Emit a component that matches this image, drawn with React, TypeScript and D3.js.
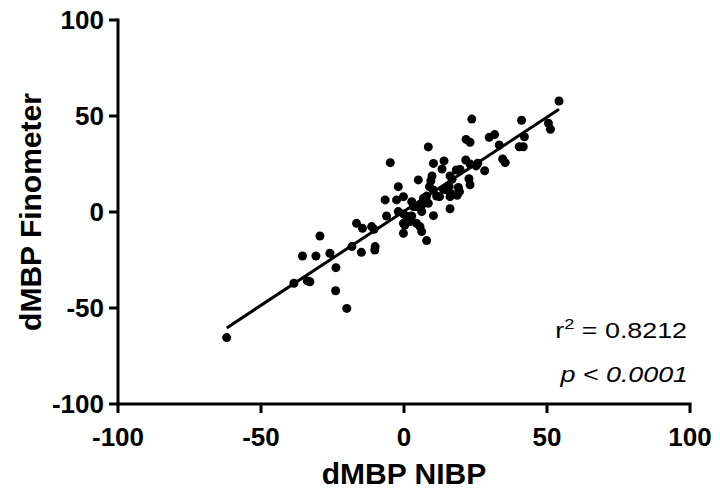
import React from "react";
import * as d3 from "d3";

const nibp: number[] = [
  54.2, 23.7, 41.1, 50.5, 51.2, 8.5, 21.7, 23.1, 29.8, 31.7, 42.1, 40.3, 41.7, 33.3, 34.5, 35.4,
  -4.8, 10.3, 14.0, 13.3, 21.6, 23.1, 25.2, 25.8, 28.2, 18.3, 19.6, 16.1, 16.8, 22.7, 23.1,
  9.8, 9.4, 5.0, -2.0, 19.0, 19.4, 8.9, 10.2, 13.8, 14.9, 15.8, 12.4, 11.4, 16.1, 16.7, 18.6,
  -0.2, -2.6, -6.6, 2.7, 6.8, 7.9, 6.2, 3.3, 4.4, 8.5, 16.1, -6.1, -2.0, -0.2, 1.5, 2.7, 6.2,
  10.3, 0.9, 2.1, -0.2, 0.3, 4.4, 5.6, 6.2, -0.2, 7.9, -10.1, -11.3,
  -16.6, -14.5, -10.5, -29.4, -35.5, -30.8, -25.9, -18.2, -14.9, -10.2, -23.8, -38.5, -33.8,
  -32.9, -23.9, -20.0, -62.0,
];
const finometer: number[] = [
  57.8, 48.4, 47.8, 46.2, 43.1, 33.9, 37.8, 36.3, 38.9, 40.3, 39.2, 34.0, 34.0, 34.9, 27.6, 25.7,
  25.7, 25.3, 26.6, 22.4, 27.1, 25.0, 24.0, 25.4, 21.5, 21.9, 22.2, 18.8, 17.0, 17.3, 14.2,
  18.8, 16.3, 16.7, 13.2, 12.8, 10.6, 13.2, 11.5, 11.8, 11.5, 13.2, 8.0, 8.3, 8.0, 9.4, 8.7,
  8.0, 6.3, 6.3, 5.4, 7.1, 8.3, 3.6, 2.8, 2.8, 4.5, 1.7, -2.1, 0.2, -1.0, -2.4, -2.1, 0.2,
  -1.9, -4.2, -5.0, -5.9, -6.8, -5.9, -7.6, -10.2, -11.1, -14.9, -18.0, -7.6,
  -5.9, -8.5, -9.0, -12.5, -22.9, -22.9, -21.5, -18.0, -21.0, -19.8, -29.0, -37.1, -35.9,
  -36.3, -41.0, -50.2, -65.4,
];
const xTicks: number[] = [-100, -50, 0, 50, 100];
const yTicks: number[] = [-100, -50, 0, 50, 100];
const fitX: number[] = [-62.0, 54.2];
const slope = 0.98;
const intercept = 0.4;
const r2Label = "0.8212";
const pLabel = "0.0001";

export default function App() {
  const x = d3.scaleLinear().domain([-100, 100]).range([118, 690]);
  const y = d3.scaleLinear().domain([-100, 100]).range([404, 20]);
  const pts = nibp.map((v, i) => [v, finometer[i]] as [number, number]);
  const line = d3
    .line<number>()
    .x((d) => x(d))
    .y((d) => y(slope * d + intercept));
  const font = "'Liberation Sans', Arial, sans-serif";
  return (
    <svg
      width={720}
      height={496}
      style={{ position: "absolute", left: 0, top: 0, background: "#fff" }}
      fontFamily={font}
    >
      <rect width={720} height={496} fill="#fff" />
      {/* axes */}
      <line x1={x(-100)} x2={x(-100)} y1={y(100) - 1.5} y2={y(-100) + 1.5} stroke="#000" strokeWidth={3} />
      <line x1={x(-100) - 1.5} x2={x(100) + 1.5} y1={y(-100)} y2={y(-100)} stroke="#000" strokeWidth={3} />
      {yTicks.map((t) => (
        <g key={"y" + t}>
          <line x1={x(-100) - 9} x2={x(-100)} y1={y(t)} y2={y(t)} stroke="#000" strokeWidth={3} />
          <text x={104} y={y(t)} dy="0.36em" textAnchor="end" fontSize={26} fontWeight="bold">
            {t}
          </text>
        </g>
      ))}
      {xTicks.map((t) => (
        <g key={"x" + t}>
          <line x1={x(t)} x2={x(t)} y1={y(-100)} y2={y(-100) + 9} stroke="#000" strokeWidth={3} />
          <text x={x(t)} y={446} textAnchor="middle" fontSize={26} fontWeight="bold">
            {t}
          </text>
        </g>
      ))}
      <text x={x(0)} y={484} textAnchor="middle" fontSize={30} fontWeight="bold">
        dMBP NIBP
      </text>
      <text
        transform={`translate(41, ${y(0)}) rotate(-90)`}
        textAnchor="middle"
        fontSize={30}
        fontWeight="bold"
      >
        dMBP Finometer
      </text>
      {/* fit line */}
      <path d={line(fitX) || ""} stroke="#000" strokeWidth={3} fill="none" />
      {pts.map((p, i) => (
        <circle key={i} cx={x(p[0])} cy={y(p[1])} r={4.5} fill="#000" />
      ))}
      <g transform="translate(687, 338) scale(1.22, 1)">
        <text x={0} y={0} textAnchor="end" fontSize={22}>
          r<tspan dy={-9} fontSize={15}>2</tspan>
          <tspan dy={9}>{" = " + r2Label}</tspan>
        </text>
      </g>
      <g transform="translate(688, 382) scale(1.22, 1)">
        <text x={0} y={0} textAnchor="end" fontSize={22} fontStyle="italic">
          {"p < " + pLabel}
        </text>
      </g>
    </svg>
  );
}
